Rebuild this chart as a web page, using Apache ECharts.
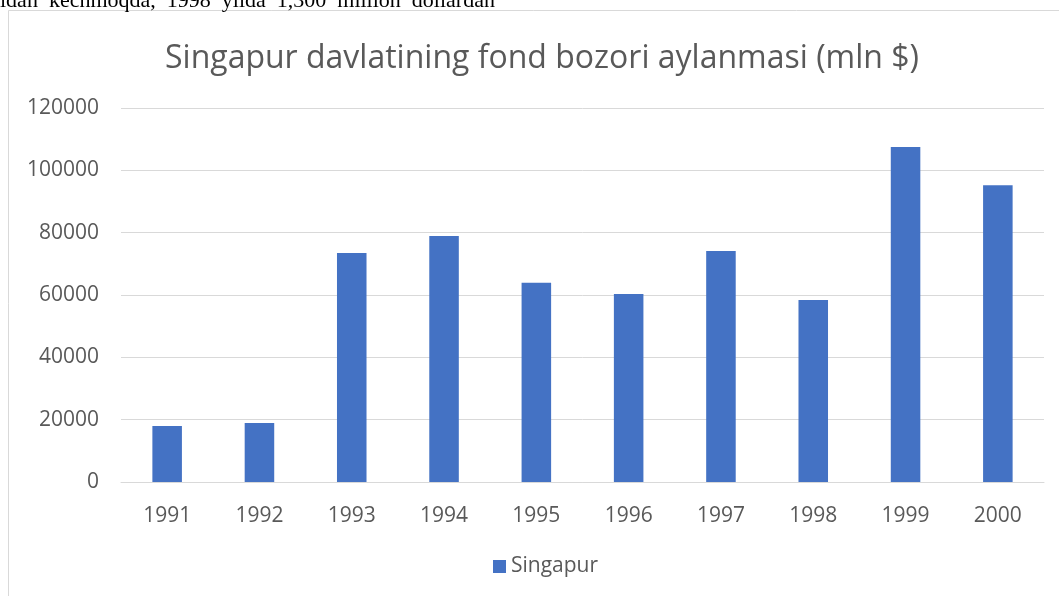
<!DOCTYPE html>
<html>
<head>
<meta charset="utf-8">
<script src="https://cdn.jsdelivr.net/npm/echarts@6/dist/echarts.min.js"></script>
<style>
  html, body { margin: 0; padding: 0; background: #fff; }
  #chart { width: 1059px; height: 596px; }
</style>
</head>
<body>
<div id="chart"></div>
<script>
// yillar va qiymatlar (mln $)
var years = ['1991', '1992', '1993', '1994', '1995', '1996', '1997', '1998', '1999', '2000'];
var turnover = [18000, 18900, 73500, 78900, 63900, 60300, 74100, 58400, 107500, 95200];
var seriesName = 'Singapur';
var titleText = 'Singapur davlatining fond bozori aylanmasi (mln $)';
var topLine = 'idan  kechmoqda,  1998  yilda  1,300  million  dollardan';

var myChart = echarts.init(document.getElementById('chart'));
var textColor = '#595959';
var font = '"Open Sans", "Noto Sans", sans-serif';

var option = {
    animation: false,
    backgroundColor: '#fff',
    title: {
        text: titleText,
        left: 160,
        top: 38,
        textStyle: {
            fontFamily: font,
            fontSize: 32,
            fontWeight: 'normal',
            color: textColor
        }
    },
    legend: {
        bottom: 14,
        left: 488,
        itemWidth: 13,
        itemHeight: 13,
        itemGap: 6,
        icon: 'rect',
        data: [seriesName],
        textStyle: {
            fontFamily: font,
            fontSize: 21,
            color: textColor
        }
    },
    grid: {
        left: 121,
        right: 15,
        top: 108,
        bottom: 114,
        containLabel: false
    },
    xAxis: {
        type: 'category',
        data: years,
        axisLine: { lineStyle: { color: '#d9d9d9', width: 1 } },
        axisTick: { show: false },
        axisLabel: {
            margin: 24,
            fontFamily: font,
            fontSize: 21,
            color: textColor
        }
    },
    yAxis: {
        type: 'value',
        min: 0,
        max: 120000,
        interval: 20000,
        axisLine: { show: false },
        axisTick: { show: false },
        axisLabel: {
            margin: 22,
            fontFamily: font,
            fontSize: 21,
            color: textColor,
            formatter: function (v) { return String(v); }
        },
        splitLine: { lineStyle: { color: '#d9d9d9', width: 1 } }
    },
    series: [{
        name: seriesName,
        type: 'bar',
        data: turnover,
        barWidth: '32%',
        itemStyle: { color: '#4472c4' }
    }],
    graphic: [
        {
            type: 'text',
            left: 0,
            top: -10,
            style: {
                text: topLine,
                font: '22px "Liberation Serif", "Times New Roman", serif',
                fill: '#000'
            },
            z: 10
        },
        {
            type: 'polyline',
            shape: { points: [[8.5, 596], [8.5, 10.5], [1059, 10.5]] },
            style: { stroke: '#d9d9d9', lineWidth: 1, fill: null },
            z: 5
        }
    ]
};
myChart.setOption(option);
</script>
</body>
</html>
